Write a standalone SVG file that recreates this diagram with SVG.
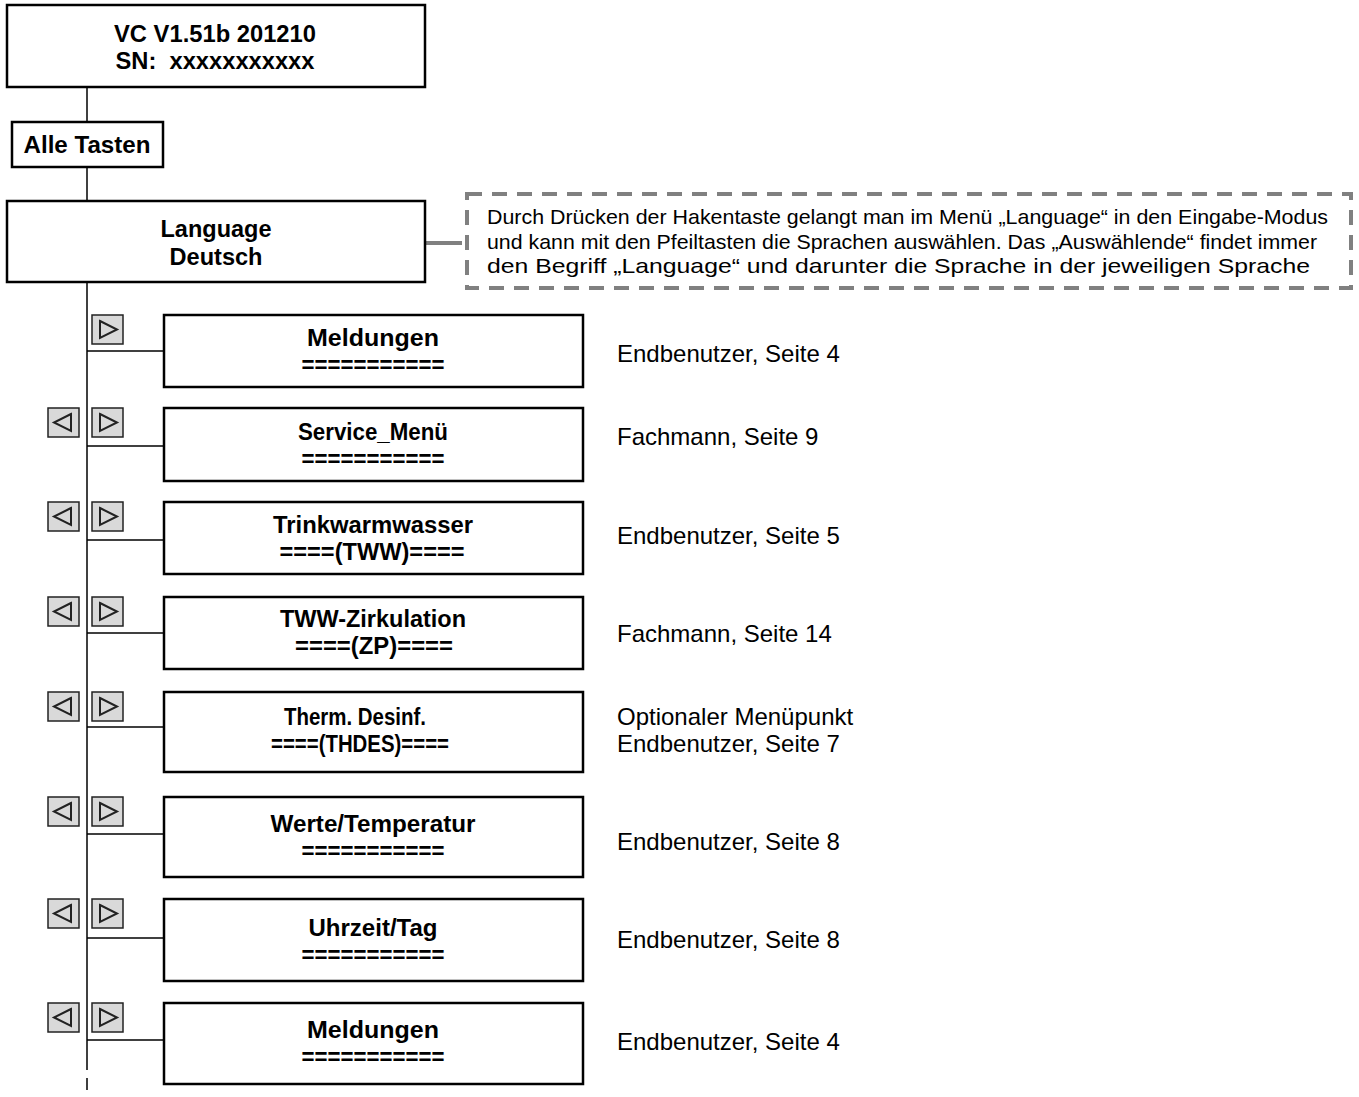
<svg xmlns="http://www.w3.org/2000/svg" width="1359" height="1097" viewBox="0 0 1359 1097">
<defs>
<style>
.box{fill:#fff;stroke:#000;stroke-width:2.5}
.conn{stroke:#000;stroke-width:1.5;fill:none}
.btn{fill:#d9d9d9;stroke:#222;stroke-width:1.5}
.tri{fill:none;stroke:#222;stroke-width:2}
.b{font-family:"Liberation Sans",Arial,sans-serif;font-weight:bold;font-size:23px;text-anchor:middle;fill:#000}
.r{font-family:"Liberation Sans",Arial,sans-serif;font-size:24px;fill:#000}
.n{font-family:"Liberation Sans",Arial,sans-serif;font-size:21px;fill:#000}
.note{fill:#fff;stroke:#808080;stroke-width:4;stroke-dasharray:15 10}
</style>
<g id="bR"><rect class="btn" x="0" y="0" width="31" height="29"/><path class="tri" d="M8 6 L25 14.5 L8 23 Z"/></g>
<g id="bL"><rect class="btn" x="0" y="0" width="31" height="29"/><path class="tri" d="M23 6 L6 14.5 L23 23 Z"/></g>
</defs>
<rect width="1359" height="1097" fill="#fff"/>
<g id="connectors">
<line class="conn" x1="87" y1="87" x2="87" y2="122"/>
<line class="conn" x1="87" y1="167" x2="87" y2="201"/>
<line class="conn" x1="87" y1="282" x2="87" y2="1058"/>
<line class="conn" x1="87" y1="1058" x2="87" y2="1097" stroke-dasharray="12 8"/>
<line x1="426" y1="243" x2="462" y2="243" stroke="#808080" stroke-width="4"/>
<line class="conn" x1="87" y1="351" x2="164" y2="351"/>
<line class="conn" x1="87" y1="446" x2="164" y2="446"/>
<line class="conn" x1="87" y1="540" x2="164" y2="540"/>
<line class="conn" x1="87" y1="633" x2="164" y2="633"/>
<line class="conn" x1="87" y1="727" x2="164" y2="727"/>
<line class="conn" x1="87" y1="834" x2="164" y2="834"/>
<line class="conn" x1="87" y1="938" x2="164" y2="938"/>
<line class="conn" x1="87" y1="1040" x2="164" y2="1040"/>
</g>
<g id="n-version"><rect class="box" x="7" y="5" width="418" height="82"/><text class="b" x="215" y="42" textLength="202" lengthAdjust="spacingAndGlyphs">VC V1.51b 201210</text><text class="b" x="215" y="69" xml:space="preserve" textLength="199" lengthAdjust="spacingAndGlyphs">SN:  xxxxxxxxxxx</text></g>
<g id="n-alle"><rect class="box" x="12" y="122" width="151" height="45"/><text class="b" x="87" y="153" textLength="127" lengthAdjust="spacingAndGlyphs">Alle Tasten</text></g>
<g id="n-language"><rect class="box" x="7" y="201" width="418" height="81"/><text class="b" x="216" y="237" textLength="111" lengthAdjust="spacingAndGlyphs">Language</text><text class="b" x="216" y="265" textLength="93" lengthAdjust="spacingAndGlyphs">Deutsch</text></g>
<g id="n-note"><rect class="note" x="467" y="194" width="884" height="94"/>
<text class="n" x="487" y="224" textLength="841" lengthAdjust="spacingAndGlyphs">Durch Drücken der Hakentaste gelangt man im Menü „Language“ in den Eingabe-Modus</text>
<text class="n" x="487" y="249" textLength="830" lengthAdjust="spacingAndGlyphs">und kann mit den Pfeiltasten die Sprachen auswählen. Das „Auswählende“ findet immer</text>
<text class="n" x="487" y="273" textLength="823" lengthAdjust="spacingAndGlyphs">den Begriff „Language“ und darunter die Sprache in der jeweiligen Sprache</text>
</g>
<g id="n-m1"><use href="#bR" x="92" y="315"/><rect class="box" x="164" y="315" width="419" height="72"/><text class="b" x="373" y="346" textLength="132" lengthAdjust="spacingAndGlyphs">Meldungen</text><text class="b" x="373" y="373" textLength="143" lengthAdjust="spacingAndGlyphs">===========</text><text class="r" x="617" y="362">Endbenutzer, Seite 4</text></g>
<g id="n-m2"><use href="#bL" x="48" y="408"/><use href="#bR" x="92" y="408"/><rect class="box" x="164" y="408" width="419" height="73"/><text class="b" x="373" y="440" textLength="150" lengthAdjust="spacingAndGlyphs">Service_Menü</text><text class="b" x="373" y="467" textLength="143" lengthAdjust="spacingAndGlyphs">===========</text><text class="r" x="617" y="445">Fachmann, Seite 9</text></g>
<g id="n-m3"><use href="#bL" x="48" y="502"/><use href="#bR" x="92" y="502"/><rect class="box" x="164" y="502" width="419" height="72"/><text class="b" x="373" y="533" textLength="200" lengthAdjust="spacingAndGlyphs">Trinkwarmwasser</text><text class="b" x="372" y="560" textLength="185" lengthAdjust="spacingAndGlyphs">====(TWW)====</text><text class="r" x="617" y="544">Endbenutzer, Seite 5</text></g>
<g id="n-m4"><use href="#bL" x="48" y="597"/><use href="#bR" x="92" y="597"/><rect class="box" x="164" y="597" width="419" height="72"/><text class="b" x="373" y="627" textLength="186" lengthAdjust="spacingAndGlyphs">TWW-Zirkulation</text><text class="b" x="374" y="654" textLength="158" lengthAdjust="spacingAndGlyphs">====(ZP)====</text><text class="r" x="617" y="642">Fachmann, Seite 14</text></g>
<g id="n-m5"><use href="#bL" x="48" y="692"/><use href="#bR" x="92" y="692"/><rect class="box" x="164" y="692" width="419" height="80"/><text class="b" x="355" y="725" textLength="142" lengthAdjust="spacingAndGlyphs">Therm. Desinf.</text><text class="b" x="360" y="752" textLength="178" lengthAdjust="spacingAndGlyphs">====(THDES)====</text><text class="r" x="617" y="725">Optionaler Menüpunkt</text><text class="r" x="617" y="752">Endbenutzer, Seite 7</text></g>
<g id="n-m6"><use href="#bL" x="48" y="797"/><use href="#bR" x="92" y="797"/><rect class="box" x="164" y="797" width="419" height="80"/><text class="b" x="373" y="832" textLength="205" lengthAdjust="spacingAndGlyphs">Werte/Temperatur</text><text class="b" x="373" y="859" textLength="143" lengthAdjust="spacingAndGlyphs">===========</text><text class="r" x="617" y="850">Endbenutzer, Seite 8</text></g>
<g id="n-m7"><use href="#bL" x="48" y="899"/><use href="#bR" x="92" y="899"/><rect class="box" x="164" y="899" width="419" height="82"/><text class="b" x="373" y="936" textLength="129" lengthAdjust="spacingAndGlyphs">Uhrzeit/Tag</text><text class="b" x="373" y="963" textLength="143" lengthAdjust="spacingAndGlyphs">===========</text><text class="r" x="617" y="948">Endbenutzer, Seite 8</text></g>
<g id="n-m8"><use href="#bL" x="48" y="1003"/><use href="#bR" x="92" y="1003"/><rect class="box" x="164" y="1003" width="419" height="81"/><text class="b" x="373" y="1038" textLength="132" lengthAdjust="spacingAndGlyphs">Meldungen</text><text class="b" x="373" y="1065" textLength="143" lengthAdjust="spacingAndGlyphs">===========</text><text class="r" x="617" y="1050">Endbenutzer, Seite 4</text></g>
</svg>
